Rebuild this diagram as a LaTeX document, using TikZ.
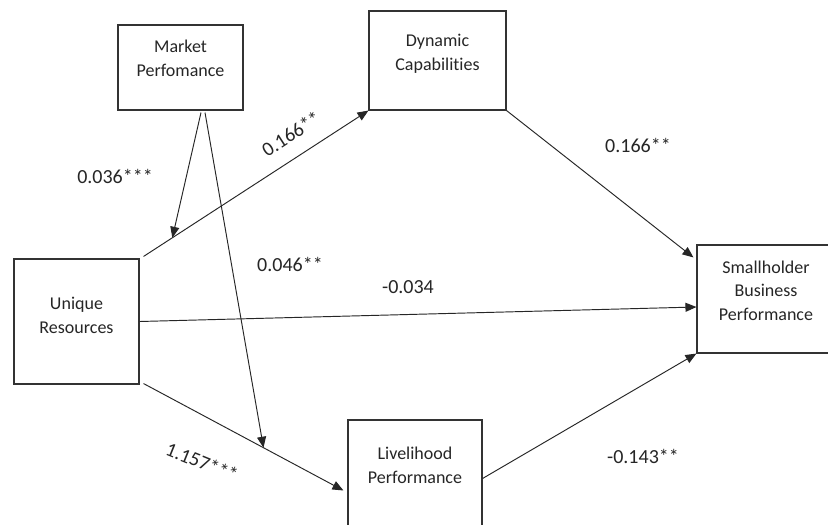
\documentclass[tikz,border=0pt]{standalone}
\usepackage{fontspec}
\setmainfont{Carlito}[Ligatures=NoCommon]
\usetikzlibrary{arrows.meta,calc}
\begin{document}
\begin{tikzpicture}[x=1pt,y=-1pt,
  box/.style={draw=black!80,line width=1.1pt,rectangle,inner sep=0pt},
  boxtext/.style={font=\fontsize{18}{23.5}\selectfont,align=center,anchor=base,inner sep=0pt,text=black!85},
  coef/.style={font=\fontsize{20}{24}\selectfont,inner sep=0pt,text=black!85},
  link/.style={draw=black!85,line width=0.95pt,-{Triangle[length=11pt,width=9pt]}}]
\useasboundingbox (0,0) rectangle (828,525);
\clip (0,0) rectangle (828,525);
\fill[white] (0,0) rectangle (828,525);

% boxes
\node[box,minimum width=125pt,minimum height=85pt] (mkt) at (180.5,67.5) {};
\node[box,minimum width=137pt,minimum height=99pt] (dyn) at (437.5,60.5) {};
\node[box,minimum width=125pt,minimum height=125pt] (uniq) at (76.5,321.5) {};
\node[box,minimum width=138pt,minimum height=108pt] (sbp) at (766,299) {};
\node[box,minimum width=134pt,minimum height=125pt] (liv) at (415,482.5) {};

% box texts (anchor = baseline of the last line)
\node[boxtext] (mkt-t) at (180.5,76) {Market\\Perfomance};
\node[boxtext] (dyn-t) at (437.5,70) {Dynamic\\Capabilities};
\node[boxtext] (uniq-t) at (76.5,333) {Unique\\Resources};
\node[boxtext] (sbp-t) at (766,320) {Smallholder\\Business\\Performance};
\node[boxtext] (liv-t) at (415,483) {Livelihood\\Performance};

% main paths
\coordinate (ud-s) at ($(uniq.north east)+(4,-2)$);
\coordinate (ul-s) at ($(uniq.south east)+(4,-1)$);
\coordinate (ul-e) at ($(liv.west)+(-4,8)$);
\draw[link] (ud-s) -- (dyn.south west) coordinate[pos=0.128] (mod1);
\draw[link] (uniq.east) -- ($(sbp.west)+(0,8)$);
\draw[link] (ul-s) -- (ul-e) coordinate[pos=0.60] (mod2);
\draw[link] (dyn.south east) -- ($(sbp.north west)+(-3,13)$);
\draw[link] ($(liv.east)+(0,-4)$) -- (sbp.south west);

% moderation arrows
\draw[link] ($(mkt.south)+(20.5,2)$) -- (mod1);
\draw[link] ($(mkt.south)+(24.5,2)$) -- (mod2);

% coefficients
\node[coef] (c1) at (115,176) {0.036***};
\node[coef,rotate=33] (c2) at (291,134) {0.166**};
\node[coef] (c3) at (638,145) {0.166**};
\node[coef] (c4) at (290,264) {0.046**};
\node[coef] (c5) at (408,287) {-0.034};
\node[coef,rotate=-22] (c6) at (202,462) {1.157***};
\node[coef] (c7) at (643,456) {-0.143**};
\end{tikzpicture}
\end{document}
